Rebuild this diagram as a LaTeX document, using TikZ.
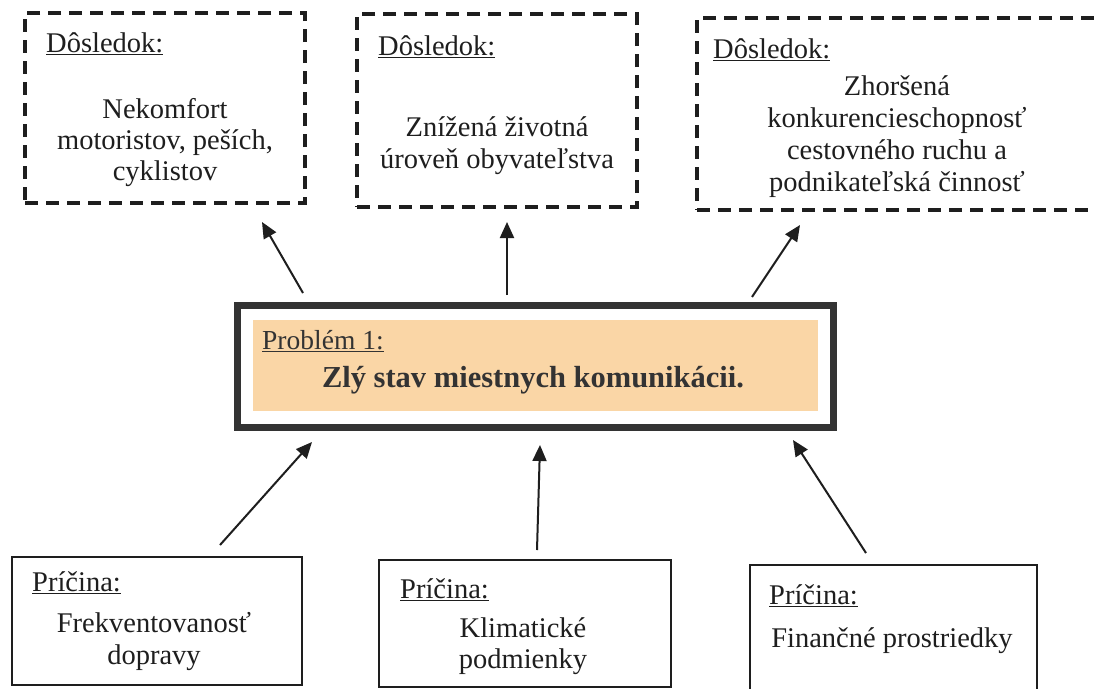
\documentclass[tikz,border=0pt]{standalone}
\usepackage{fontspec}
\setmainfont{Liberation Serif}
\usetikzlibrary{arrows.meta}
\definecolor{ink}{HTML}{1E1E1E}
\definecolor{frame}{HTML}{333333}
\definecolor{peach}{HTML}{FAD6A6}
\tikzset{
  dbox/.style={draw=ink, line width=3.5pt, dash pattern=on 13pt off 8pt, rectangle, inner sep=0pt},
  cbox/.style={draw=ink, line width=2pt, rectangle, inner sep=0pt},
  pbox/.style={draw=frame, line width=7pt, rectangle, inner sep=0pt, fill=white},
  pfill/.style={fill=peach, draw=none, rectangle, inner sep=0pt},
  hdr/.style={anchor=base west, inner sep=0pt, text=ink, font=\fontsize{28.5}{32}\selectfont},
  body/.style={anchor=base, inner sep=0pt, align=center, text=ink},
  arr/.style={draw=ink, line width=2pt, -{Triangle[length=16pt,width=14pt]}, color=ink},
}
\begin{document}
\begin{tikzpicture}[x=1pt,y=-1pt]
\useasboundingbox (0,0) rectangle (1094,688);
\clip (0,0) rectangle (1094,688);
\fill[white] (0,0) rectangle (1094,688);

% effect boxes
\node[dbox, minimum width=280pt, minimum height=190pt] (d1) at (165,108) {};
\node[dbox, minimum width=280pt, minimum height=193pt] (d2) at (497,110.5) {};
\node[dbox, minimum width=407pt, minimum height=192pt] (d3) at (900.5,114) {};

\node[hdr] (d1h) at (46,52) {\underline{Dôsledok:}};
\node[body, font=\fontsize{28.5}{31}\selectfont] (d1t) at (165,180) {Nekomfort\\motoristov, peších,\\cyklistov};
\node[hdr] (d2h) at (378,55) {\underline{Dôsledok:}};
\node[body, font=\fontsize{28.5}{32}\selectfont] (d2t) at (497,168) {Znížená životná\\úroveň obyvateľstva};
\node[hdr] (d3h) at (713,58) {\underline{Dôsledok:}};
\node[body, font=\fontsize{28.5}{32}\selectfont] (d3t) at (897,191) {Zhoršená\\konkurencieschopnosť\\cestovného ruchu a\\podnikateľská činnosť};

% problem box
\node[pbox, minimum width=596pt, minimum height=122pt] (p) at (535,366) {};
\node[pfill, minimum width=565pt, minimum height=91pt] (pf) at (535.5,365.5) {};
\node[hdr, text=frame, font=\fontsize{27.5}{30}\selectfont] (ph) at (262,349) {\underline{Problém 1:}};
\node[body, text=frame, font=\fontsize{30.5}{34}\selectfont\bfseries] (pt) at (533,387) {Zlý stav miestnych komunikácii.};

% cause boxes
\node[cbox, minimum width=290pt, minimum height=128pt] (c1) at (157,621) {};
\node[cbox, minimum width=292pt, minimum height=127pt] (c2) at (525,623.5) {};
\node[cbox, minimum width=287pt, minimum height=135pt] (c3) at (893.5,632.5) {};

\node[hdr] (c1h) at (32,591) {\underline{Príčina:}};
\node[body, font=\fontsize{28.5}{32}\selectfont] (c1t) at (154,664) {Frekventovanosť\\dopravy};
\node[hdr] (c2h) at (400,598) {\underline{Príčina:}};
\node[body, font=\fontsize{28.5}{31}\selectfont] (c2t) at (523,668) {Klimatické\\podmienky};
\node[hdr] (c3h) at (769,604) {\underline{Príčina:}};
\node[body, font=\fontsize{28.5}{32}\selectfont] (c3t) at (892,647) {Finančné prostriedky};

% arrow end points
\coordinate (a1s) at (303,293); \coordinate (a1e) at (262,222);
\coordinate (a2s) at (507,295); \coordinate (a2e) at (507,222);
\coordinate (a3s) at (752,297); \coordinate (a3e) at (800,225);
\coordinate (b1s) at (220,545); \coordinate (b1e) at (312,442);
\coordinate (b2s) at (537,550); \coordinate (b2e) at (540,445);
\coordinate (b3s) at (866,553); \coordinate (b3e) at (793,440);

\draw[arr] (a1s) -- (a1e);
\draw[arr] (a2s) -- (a2e);
\draw[arr] (a3s) -- (a3e);
\draw[arr] (b1s) -- (b1e);
\draw[arr] (b2s) -- (b2e);
\draw[arr] (b3s) -- (b3e);
\end{tikzpicture}
\end{document}
